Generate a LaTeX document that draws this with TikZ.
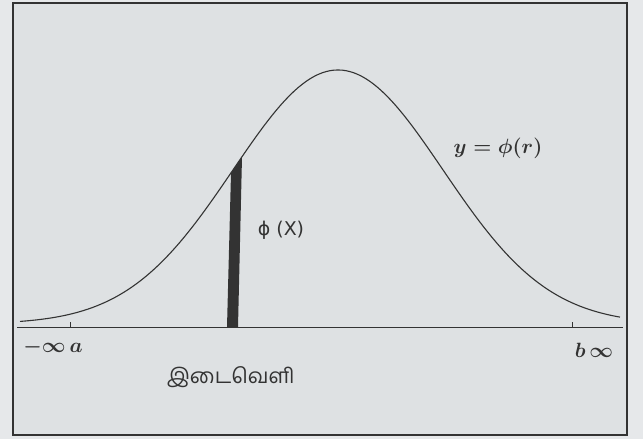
\documentclass[tikz,border=0pt]{standalone}
\usepackage{fontspec}
\newfontfamily\tamilfont[Script=Tamil]{Hind Madurai}
\newfontfamily\labelfont{DejaVu Sans}
\definecolor{paper}{HTML}{E6E8EA}
\definecolor{panel}{HTML}{DEE1E3}
\definecolor{ink}{HTML}{333333}
\tikzset{
  hand/.style={inner sep=0pt,text=ink,font=\fontsize{20}{24}\selectfont\boldmath},
}
\begin{document}
\begin{tikzpicture}[x=1bp,y=-1bp]
\fill[paper] (0,0) rectangle (643,439);
\draw[ink,line width=2.5bp,fill=panel] (13,3) rectangle (627,435);
\coordinate (left) at (17,327);
\coordinate (right) at (623,327);
\draw[ink,line width=1bp] (left) -- (right);
\draw[ink] (70,322) -- (70,327);
\draw[ink] (572,322) -- (572,327);
\draw[ink,line width=1.1bp] plot[domain=20:620,samples=150,smooth] (\x,{324-254*exp(-((\x-338)/105)^2/2)});
\fill[ink] (227,327) -- (238,327) -- (242,157) -- (231,173) -- cycle;
\node[hand] (curve) at (498,148) {$y=\phi(r)$};
\node[inner sep=0pt,text=ink,font=\labelfont\fontsize{19}{22}\selectfont] (phix) at (281,230) {ϕ (X)};
\node[hand] (a) at (53,347) {$-\infty\,a$};
\node[hand] (b) at (594,350) {$b\,\infty$};
\node[inner sep=0pt,text=ink,font=\tamilfont\fontsize{21}{24}\selectfont] (gap) at (231,377) {இடைவெளி};
\end{tikzpicture}
\end{document}
